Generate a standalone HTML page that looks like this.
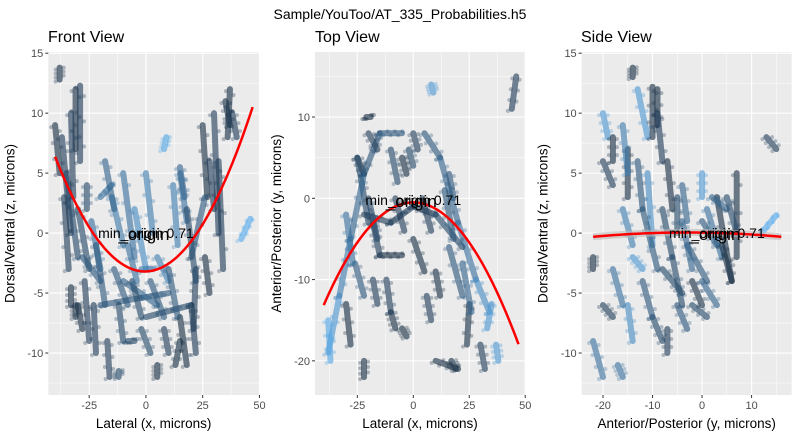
<!DOCTYPE html>
<html><head><meta charset="utf-8"><style>
body{margin:0;background:#fff;}
svg{display:block;font-family:"Liberation Sans",sans-serif;}
</style></head><body>
<svg id="c" width="800" height="438"></svg>
<script>
// ---- data ----
const panelTitles=["Front View","Top View","Side View"];
const xTitles=["Lateral (x, microns)","Lateral (x, microns)","Anterior/Posterior (y, microns)"];
const yTitles=["Dorsal/Ventral (z, microns)","Anterior/Posterior (y, microns)","Dorsal/Ventral (z, microns)"];
const xTicks=[[-25,0,25,50],[-25,0,25,50],[-20,-10,0,10]];
const yTicks=[[-10,-5,0,5,10,15],[-20,-10,0,10],[-10,-5,0,5,10,15]];
// fit coefficients: y = a*(x-h)^2 + c
const fitA=[0.0061,-0.0079,-0.001];
const fitH=[-0.4,0,-3];
const fitC=[-3.2,-0.5,0.05];
const fitRange=[[-40,47],[-40,47],[-22,16]];
// tracks: x1,y1,x2,y2,shade(0 dark..1 light)
const frontTracks=[[-38,13.8,-38,12.8,0],[-31,12,-31,7,0],[-29,12.3,-29,6,0.1],[-40,9,-38,5,0],[-37,8,-33,0,0.1],[-35,5,-30,-2,0.2],[-30,2,-25,-3,0.2],[-28,-2,-20,-4,0.3],[-30,-6,-28,-8,0],[-23,-6,-22,-10,0.1],[-17,-9,-16,-12,0.1],[-24,1,-20,-3,0.5],[-15,3,-10,-1,0.55],[-10,5,-5,-2,0.5],[-5,2,0,-3,0.7],[8,7,9,8,0.9],[15,5,18,1,0.5],[15,5.5,17,3,0.4],[25,9,27,3,0],[30,10,32,0,0.1],[35,11,37,9,0],[37,12,36,8,0],[26,3,20,-2,0.3],[22,-3,21,-8,0.1],[15,-7,18,-11,0],[5,-11,5,-12,0],[-20,-6,10,-5,0.3],[-10,-4,5,-6,0.4],[0,-7,20,-6,0.2],[42,-0.5,46,1.2,0.95],[-8,-9,-5,-9,0.2],[-12,-12,-12,-11.5,0.2],[13,-11,15,-9,0],[-33,-4.5,-33,-6,0],[-31,-6,-31,-7,0],[5,-2,10,-4,0.6],[-2,-3,3,-3,0.6],[-20,3,-15,4,0.5],[28,6,30,2,0.1],[-26,4,-26,2,0.2],
 [-36,3,-34,-3,0.1],[-22,-1,-18,-6,0.3],[-14,-3,-8,-6,0.3],[-6,-4,-2,-7,0.2],[2,-4,8,-7,0.3],[10,-3,14,-7,0.3],[18,2,22,-4,0.2],[32,6,34,-3,0.1],[26,-2,28,-5,0],[-27,-4,-25,-9,0.1],[-12,-6,-10,-9,0.2],[-2,-8,2,-10,0.2],[8,-8,10,-10,0.1],[20,-6,22,-10,0.1],[-18,6,-14,2,0.4],[0,5,3,0,0.6],[12,4,14,-1,0.6],[-33,10,-32,3,0.1],[38,10,40,8,0.1],[-8,-1,-4,-4,0.5]];
const topTracks=[[44,11,46,15,0.1],[-21,10,-19,10,0],[-25,5,-22,3,0],[-25,5,-20,-3,0.2],[-38,-19,-33,-12,0.8],[-33,-12,-28,-5,0.6],[-28,-5,-22,3,0.4],[-22,3,-15,8,0.3],[-15,8,-5,8,0.3],[5,8,12,5,0.3],[12,5,20,-3,0.4],[20,-3,28,-10,0.5],[28,-10,34,-14,0.7],[-22,-2,-10,-3,0.1],[-10,-3,0,-1,0.1],[0,-1,10,-2,0.1],[10,-2,22,-6,0.2],[-30,-13,-28,-18,0],[-22,-20,-22,-22,0],[-10,-14,-8,-16,0],[-5,-16,-3,-17,0],[10,-20,20,-21,0],[17,-20,19,-21,0],[25,-13,24,-18,0],[30,-18,32,-21,0.1],[8,14,9,13,0.8],[-38,-15,-37,-20,0.9],[35,-13,33,-16,0.8],[37,-18,38,-20,0.8],[-15,-7,-5,-7,0],[0,-5,5,-9,0],[10,-9,12,-12,0],[-12,-10,-10,-14,0.1],[-2,6,0,4,0.2],[-10,6,-7,2,0.2],[-5,5,-3,3,0],[14,1,18,-5,0.3],[-18,-3,-15,-7,0.1],
 [-20,0,-16,-5,0.2],[-8,0,-4,-4,0.1],[4,0,8,-4,0.1],[16,-6,22,-12,0.3],[22,-8,26,-14,0.4],[-26,-8,-22,-12,0.3],[-18,-10,-16,-13,0.1],[-30,-2,-27,-8,0.5],[6,-12,8,-15,0.1],[-20,8,-16,6,0.1],[0,8,2,6,0.1],[16,3,18,0,0.3]];
const sideTracks=[[-14,13.8,-14,13,0],[-13,12,-11,8,0.8],[-10,12.2,-10,8,0],[-9,12,-9,9,0],[-20,10,-19,8,0.8],[-18,8,-18,6,0],[-20,6,-18,4,0.1],[-15,7,-15,3,0],[-13,6,-12,2,0.3],[-11,5,-10,-1,0.7],[-7,6,-6,2,0],[-5,3,-5,0,0.2],[0,5,0,3,0.8],[1,2,4,-2,0.5],[3,3,6,-4,0],[4,-1,6,-4,0],[7,5,7,-2,0],[13,8,15,7,0.1],[12,0,15,1.5,0.95],[-22,-9,-20,-12,0.5],[-17,-11,-16,-12,0.5],[-15,-6,-14,-9,0.7],[-10,-7,-8,-9,0.2],[-5,-6,-3,-8,0.3],[-2,-4,0,-6,0],[0,-4,3,-6,0.4],[-14,-2,-12,-3,0.8],[-20,-6,-18,-7,0.1],[-8,-3,-4,-5,0.2],[-3,-1,1,-4,0.3],[-22,-2,-22,-3,0],[-16,2,-14,-1,0.6],[-7,-8,-7,-10,0.1],[2,3,5,2,0.4],
 [-12,2,-9,-3,0.3],[-8,2,-6,-2,0.2],[-4,1,-2,-3,0.4],[0,1,3,-1,0.3],[5,3,7,0,0.2],[-6,-2,-4,-6,0.2],[-12,-4,-10,-7,0.3],[-18,-3,-16,-6,0.5],[-2,-6,1,-7,0.2],[-9,10,-8,6,0.1],[-16,9,-15,5,0.6],[-4,4,-3,1,0.4]];
const tracks=[frontTracks,topTracks,sideTracks];
// ---- layout ----
const P=[
 {l:48.3,r:259,t:52,b:395,x0:-43,x1:49.8,y0:-13.5,y1:15.1,xm:[-37.5,-12.5,12.5,37.5],ym:[-12.5,-7.5,-2.5,2.5,7.5,12.5],tx:48},
 {l:315,r:525,t:52,b:395,x0:-43.9,x1:49.9,y0:-24.2,y1:18,xm:[-37.5,-12.5,12.5,37.5],ym:[-15,-5,5,15],tx:315},
 {l:581.7,r:791.7,t:52,b:395,x0:-24.3,x1:18.1,y0:-13.5,y1:15.1,xm:[-15,-5,5,15],ym:[-12.5,-7.5,-2.5,2.5,7.5,12.5],tx:581}
];
const svg=document.getElementById('c');const NS='http://www.w3.org/2000/svg';
function mk(t,a,p){const e=document.createElementNS(NS,t);for(const k in a)e.setAttribute(k,a[k]);(p||svg).appendChild(e);return e;}
function col(s){const a=[0x13,0x2b,0x43],b=[0x56,0xb1,0xf7];return 'rgb('+a.map((v,i)=>Math.round(v+(b[i]-v)*s)).join(',')+')';}
const title=mk('text',{x:400,y:19,'text-anchor':'middle','font-size':14,fill:'#000'});title.textContent='Sample/YouToo/AT_335_Probabilities.h5';


P.forEach((p,i)=>{
 const X=v=>p.l+(v-p.x0)/(p.x1-p.x0)*(p.r-p.l);
 const Y=v=>p.b-(v-p.y0)/(p.y1-p.y0)*(p.b-p.t);
 const g=mk('g',{});
 
 
 mk('rect',{x:p.l,y:p.t,width:p.r-p.l,height:p.b-p.t,fill:'#ebebeb'},g);
 p.xm.forEach(v=>mk('line',{x1:X(v),x2:X(v),y1:p.t,y2:p.b,stroke:'#fff','stroke-width':0.5},g));
 p.ym.forEach(v=>mk('line',{x1:p.l,x2:p.r,y1:Y(v),y2:Y(v),stroke:'#fff','stroke-width':0.5},g));
 xTicks[i].forEach(v=>{mk('line',{x1:X(v),x2:X(v),y1:p.t,y2:p.b,stroke:'#fff','stroke-width':1.1},g);
  mk('line',{x1:X(v),x2:X(v),y1:p.b,y2:p.b+3,stroke:'#333'},g);
  const t=mk('text',{x:X(v),y:p.b+14,'text-anchor':'middle','font-size':11,fill:'#4d4d4d'},g);t.textContent=v;
  
  });
 yTicks[i].forEach(v=>{mk('line',{x1:p.l,x2:p.r,y1:Y(v),y2:Y(v),stroke:'#fff','stroke-width':1.1},g);
  mk('line',{x1:p.l-3,x2:p.l,y1:Y(v),y2:Y(v),stroke:'#333'},g);
  const t=mk('text',{x:p.l-5,y:Y(v)+4,'text-anchor':'end','font-size':11,fill:'#4d4d4d'},g);t.textContent=v;
  
  });
 tracks[i].forEach(d=>{
  const ln=mk('line',{x1:X(d[0]),y1:Y(d[1]),x2:X(d[2]),y2:Y(d[3]),stroke:col(d[4]),'stroke-width':6,'stroke-linecap':'round',opacity:0.6},g);
  
  
  for(let k=0;k<=6;k++){const f=k/6;
   const c=mk('circle',{cx:X(d[0]+(d[2]-d[0])*f)+ (k%2?4:-4),cy:Y(d[1]+(d[3]-d[1])*f)+(k%2?-2:2),r:2,fill:col(d[4]),opacity:0.3},g);
   
   }
 });
 let pts=[];const [a0,a1]=fitRange[i];
 for(let k=0;k<=60;k++){const x=a0+(a1-a0)*k/60;pts.push(X(x)+','+Y(fitA[i]*(x-fitH[i])**2+fitC[i]));}
 if(i==2){mk('polyline',{points:pts.join(' '),fill:'none',stroke:'#bbb','stroke-width':7,opacity:0.6},g);}
 const fl=mk('polyline',{points:pts.join(' '),fill:'none',stroke:'#ff0000','stroke-width':2.5},g);
 
 
 const lx=X(i==2?3:0), ly=Y(i==1?-0.2:0)+5;
 const l1=mk('text',{x:lx,y:ly,'text-anchor':'middle','font-size':14,fill:'#000'},g);l1.textContent='min_origin 0.71';
 
 
 const l2=mk('text',{x:lx-2,y:ly+2,'text-anchor':'middle','font-size':17,fill:'#000'},g);l2.textContent='_origin';
 
 
 const pt=mk('text',{x:p.tx,y:42,'font-size':16,fill:'#000'},g);pt.textContent=panelTitles[i];
 
 
 const xt=mk('text',{x:(p.l+p.r)/2,y:428,'text-anchor':'middle','font-size':13.5,fill:'#000'},g);xt.textContent=xTitles[i];
 
 
 const yx=p.l-34, yy=(p.t+p.b)/2;
 const yt=mk('text',{x:yx,y:yy,'text-anchor':'middle','font-size':13.5,fill:'#000',transform:'rotate(-90 '+yx+' '+yy+')'},g);yt.textContent=yTitles[i];
 
 
});
</script>
</body></html>
